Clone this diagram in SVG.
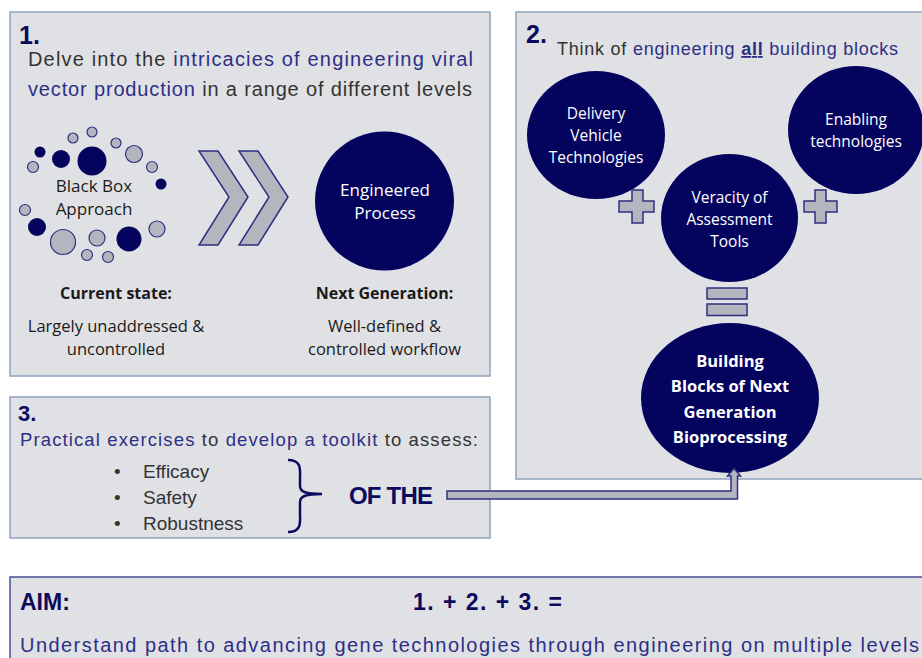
<svg xmlns="http://www.w3.org/2000/svg" width="922" height="658" viewBox="0 0 922 658">
<style>
.panel{fill:#e0e1e5;stroke:#8ea3bf;stroke-width:1.5}
.dk{fill:#04045f}
.gy{fill:#b3b5bf;stroke:#2f2f80;stroke-width:1.2}
.shape{fill:#b3b5bf;stroke:#2f2f80;stroke-width:1.5}
.cg{font-family:"Liberation Sans",Arial,sans-serif}
.cb{font-family:"Open Sans","Noto Sans",sans-serif}
.num{font-family:"Liberation Sans",Arial,sans-serif;font-weight:bold;fill:#0b0b5e}
.gr{fill:#333333}
.nv{fill:#2d2f85}
.wt{fill:#ffffff;text-anchor:middle}
.bk{fill:#1a1a1a;text-anchor:middle}
</style>
<rect width="922" height="658" fill="#ffffff"/>

<g id="panel1">
<rect class="panel" x="10" y="12" width="480" height="364"/>
<text class="num" x="19" y="44" font-size="25">1.</text>
<text class="cg" x="28" y="66" font-size="20" textLength="445"><tspan class="gr">Delve into the </tspan><tspan class="nv">intricacies of engineering viral</tspan></text>
<text class="cg" x="28" y="96" font-size="20" textLength="444"><tspan class="nv">vector production</tspan><tspan class="gr"> in a range of different levels</tspan></text>
</g>

<g id="black-box">
<circle class="gy" cx="92" cy="132" r="5"/>
<circle class="gy" cx="73" cy="138" r="5"/>
<circle class="gy" cx="116" cy="143" r="5"/>
<circle class="dk" cx="40" cy="152" r="5.5"/>
<circle class="dk" cx="61" cy="159" r="9"/>
<circle class="dk" cx="92" cy="161" r="14.5"/>
<circle class="gy" cx="134" cy="154" r="8.5"/>
<circle class="gy" cx="33" cy="167" r="5.5"/>
<circle class="gy" cx="152" cy="167" r="5.5"/>
<circle class="dk" cx="161" cy="184" r="5.5"/>
<circle class="gy" cx="25" cy="210" r="5.5"/>
<circle class="dk" cx="37" cy="227" r="9"/>
<circle class="gy" cx="63" cy="242" r="12.5"/>
<circle class="gy" cx="97" cy="238" r="8"/>
<circle class="dk" cx="129" cy="239" r="12.5"/>
<circle class="gy" cx="157" cy="229" r="8"/>
<circle class="gy" cx="87" cy="255" r="5.5"/>
<circle class="gy" cx="108" cy="257" r="5.5"/>
<text class="cb bk" x="94" y="192" font-size="17">Black Box</text>
<text class="cb bk" x="94" y="215" font-size="17">Approach</text>
</g>

<g id="chevrons">
<polygon class="shape" points="199,151 218,151 248,197 218,245 199,245 229,197"/>
<polygon class="shape" points="239,151 258,151 288,197 258,245 239,245 269,197"/>
</g>

<g id="engineered-process">
<circle class="dk" cx="384.5" cy="201" r="69.5"/>
<text class="cb wt" x="385" y="196" font-size="17">Engineered</text>
<text class="cb wt" x="385" y="219" font-size="17">Process</text>
</g>

<g id="states">
<text class="cb bk" x="116" y="299" font-size="16" font-weight="bold">Current state:</text>
<text class="cb bk" x="116" y="332" font-size="16.5">Largely unaddressed &amp;</text>
<text class="cb bk" x="116" y="355" font-size="16.5">uncontrolled</text>
<text class="cb bk" x="384.5" y="299" font-size="16" font-weight="bold">Next Generation:</text>
<text class="cb bk" x="384.5" y="332" font-size="16.5">Well-defined &amp;</text>
<text class="cb bk" x="384.5" y="355" font-size="16.5">controlled workflow</text>
</g>

<g id="panel2">
<rect class="panel" x="516" y="12" width="420" height="467"/>
<text class="num" x="526" y="43" font-size="25">2.</text>
<text class="cg" x="557" y="55" font-size="18" textLength="341"><tspan class="gr">Think of </tspan><tspan class="nv">engineering </tspan><tspan class="nv" font-weight="bold" text-decoration="underline">all</tspan><tspan class="nv"> building blocks</tspan></text>
</g>

<g id="delivery">
<ellipse class="dk" cx="596" cy="135" rx="69" ry="64"/>
<text class="cb wt" x="596" y="119" font-size="15.5">Delivery</text>
<text class="cb wt" x="596" y="141" font-size="15.5">Vehicle</text>
<text class="cb wt" x="596" y="163" font-size="15.5">Technologies</text>
</g>

<g id="enabling">
<ellipse class="dk" cx="856" cy="130" rx="68" ry="64"/>
<text class="cb wt" x="856" y="125" font-size="15.5">Enabling</text>
<text class="cb wt" x="856" y="147" font-size="15.5">technologies</text>
</g>

<g id="veracity">
<ellipse class="dk" cx="729.5" cy="218" rx="68.5" ry="64"/>
<text class="cb wt" x="729.5" y="203" font-size="15.5">Veracity of</text>
<text class="cb wt" x="729.5" y="225" font-size="15.5">Assessment</text>
<text class="cb wt" x="729.5" y="247" font-size="15.5">Tools</text>
</g>

<g id="operators">
<path class="shape" d="M632,190 h11 v11 h11 v11 h-11 v11 h-11 v-11 h-13 v-11 h13 z"/>
<path class="shape" d="M815,190 h11 v11 h11 v11 h-11 v11 h-11 v-11 h-11 v-11 h11 z"/>
<rect class="shape" x="707" y="288" width="40" height="11"/>
<rect class="shape" x="707" y="304" width="40" height="11.5"/>
</g>

<g id="building-blocks">
<ellipse class="dk" cx="730" cy="398" rx="89" ry="75"/>
<text class="cb wt" x="730" y="367" font-size="16.5" font-weight="bold">Building</text>
<text class="cb wt" x="730" y="392" font-size="16.5" font-weight="bold">Blocks of Next</text>
<text class="cb wt" x="730" y="418" font-size="16.5" font-weight="bold">Generation</text>
<text class="cb wt" x="730" y="443" font-size="16.5" font-weight="bold">Bioprocessing</text>
</g>

<g id="panel3">
<rect class="panel" x="10" y="397" width="480" height="141"/>
<text class="num" x="18" y="421" font-size="22">3.</text>
<text class="cg" x="20" y="446" font-size="18.5" textLength="458"><tspan class="nv">Practical exercises</tspan><tspan class="gr"> to </tspan><tspan class="nv">develop a toolkit</tspan><tspan class="gr"> to assess:</tspan></text>
<g class="cg gr" font-size="19">
<text x="114" y="478">•</text>
<text x="143" y="478">Efficacy</text>
<text x="114" y="504">•</text>
<text x="143" y="504">Safety</text>
<text x="114" y="530">•</text>
<text x="143" y="530">Robustness</text>
</g>
<path d="M288,460 C302,460 300,470 300,478 L300,486 C300,492 306,494 322,494 C306,494 300,496 300,502 L300,514 C300,522 302,532 288,532" fill="none" stroke="#0b0b5e" stroke-width="2.5"/>
<text class="num" x="349" y="504" font-size="24" textLength="84">OF THE</text>
</g>

<g id="connectors">
<path class="shape" d="M447,491 L731,491 L731,476 L727.5,476 L734,468.5 L740.5,476 L737.5,476 L737.5,499 L447,499 Z"/>
</g>

<g id="aim">
<rect class="panel" x="10" y="577" width="930" height="100" style="stroke:#4a4f96"/>
<text class="num" x="20" y="610" font-size="23">AIM:</text>
<text class="num" x="413" y="610" font-size="23" textLength="149">1. + 2. + 3. =</text>
<text class="cg nv" x="20" y="652" font-size="20" textLength="899">Understand path to advancing gene technologies through engineering on multiple levels</text>
</g>
</svg>
